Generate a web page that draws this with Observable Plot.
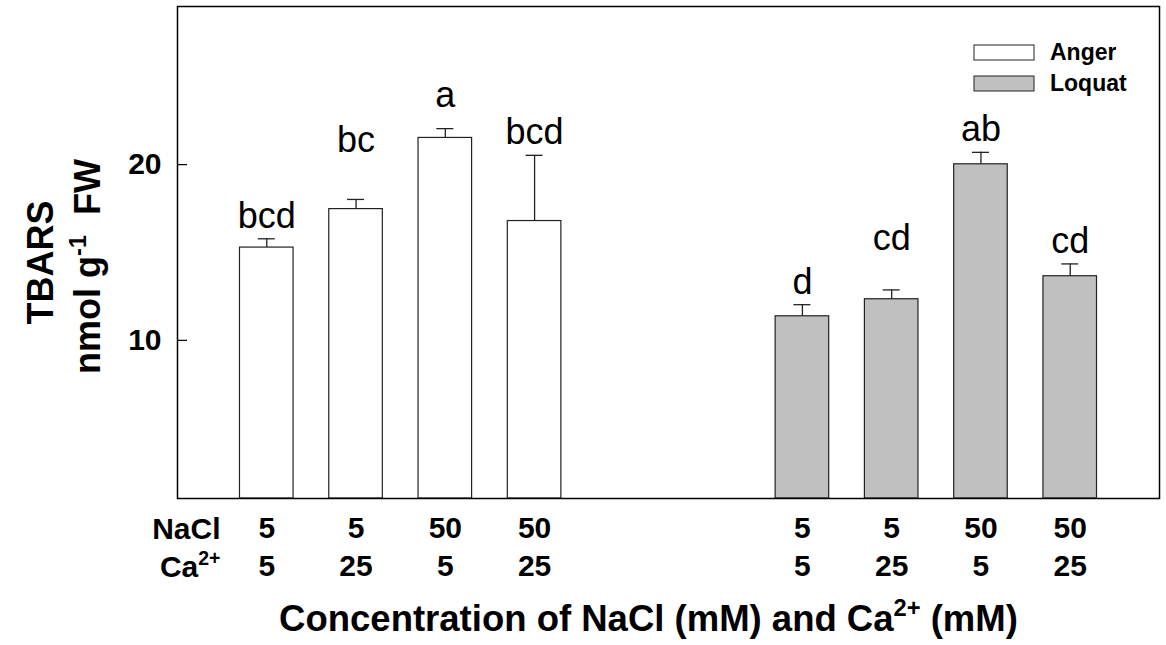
<!DOCTYPE html>
<html><head><meta charset="utf-8">
<script src="https://cdn.jsdelivr.net/npm/d3@7"></script>
<script src="https://cdn.jsdelivr.net/npm/@observablehq/plot@0.6"></script>
<style>
body{margin:0;background:#fff;}
#wrap{position:relative;width:1166px;height:645px;}
#leg{position:absolute;left:974px;top:37px;}
#leg .lg-swatches{font:bold 23px "Liberation Sans",Arial,sans-serif;margin:0;color:#000;}
#leg .lg-swatch{height:30px;padding-bottom:1px;}
#leg .lg-swatch>svg{margin-right:16px;overflow:visible;}
#leg .lg-swatch>svg rect{stroke:#222;stroke-width:1px;}
</style></head><body><div id="wrap"></div>
<script>
const varieties = ["Anger", "Loquat"];
const nacl = [5, 5, 50, 50];
const calcium = [5, 25, 5, 25];
const angerMean = [15.28, 17.47, 21.52, 16.79];
const angerErr = [0.50, 0.55, 0.53, 3.74];
const loquatMean = [11.37, 12.34, 20.02, 13.65];
const loquatErr = [0.66, 0.53, 0.68, 0.70];
const angerLetters = ["bcd", "bc", "a", "bcd"];
const loquatLetters = ["d", "cd", "ab", "cd"];
const angerLetterY = [16.40, 20.70, 23.27, 21.18];
const loquatLetterY = [12.66, 15.15, 21.33, 14.96];
const angerSlot = [0, 1, 2, 3];
const loquatSlot = [6, 7, 8, 9];
const yTicks = [10, 20];
const xDomain = [-1, 10];
const yDomain = [1, 29];
const rowLabels = ["NaCl", "Ca^{2+}"];
const xTitle = "Concentration of NaCl (mM) and Ca^{2+} (mM)";
const yTitle1 = "TBARS";
const yTitle2 = "nmol g^{-1}  FW";

const rows = [];
angerSlot.forEach((s, i) => rows.push({variety: "Anger", slot: s, nacl: nacl[i], ca: calcium[i], mean: angerMean[i], err: angerErr[i], letter: angerLetters[i], ly: angerLetterY[i]}));
loquatSlot.forEach((s, i) => rows.push({variety: "Loquat", slot: s, nacl: nacl[i], ca: calcium[i], mean: loquatMean[i], err: loquatErr[i], letter: loquatLetters[i], ly: loquatLetterY[i]}));
const bySlot = new Map(rows.map(d => [d.slot, d]));

const halfBar = 0.3, halfCap = 0.095;
const font = '"Liberation Sans", Arial, sans-serif';

const chart = Plot.plot({
  width: 1166, height: 645,
  marginTop: 6, marginBottom: 147, marginLeft: 177, marginRight: 7,
  style: {fontFamily: font, background: "#fff", color: "#000"},
  x: {domain: xDomain, axis: null, label: null},
  y: {domain: yDomain, axis: null, label: null},
  color: {domain: varieties, range: ["#ffffff", "#c0c0c0"]},
  marks: [
    Plot.rect(rows, {x1: d => d.slot - halfBar, x2: d => d.slot + halfBar, y1: yDomain[0], y2: "mean", fill: "variety", stroke: "#222", strokeWidth: 1.2}),
    Plot.ruleX(rows, {x: "slot", y1: "mean", y2: d => d.mean + d.err, stroke: "#222", strokeWidth: 1.3}),
    Plot.ruleY(rows, {y: d => d.mean + d.err, x1: d => d.slot - halfCap, x2: d => d.slot + halfCap, stroke: "#222", strokeWidth: 1.3}),
    Plot.text(rows, {x: "slot", y: "ly", text: "letter", lineAnchor: "bottom", fontSize: 36, fill: "#000"}),
    Plot.axisY({ticks: yTicks, tickSize: -10, tickFormat: () => "", strokeWidth: 1.2, label: null}),
    Plot.axisY({ticks: yTicks, tickSize: 0, tickPadding: 16, fontSize: 30, fontWeight: "bold", label: null}),
    Plot.axisX({ticks: rows.map(d => d.slot), tickSize: 0, tickPadding: 13, fontSize: 30, fontWeight: "bold", lineHeight: 1.26,
      tickFormat: s => `${bySlot.get(s).nacl}\n${bySlot.get(s).ca}`, label: null}),
    Plot.text([rowLabels[0]], {frameAnchor: "bottom-left", textAnchor: "end", dx: 43, dy: 40, lineAnchor: "bottom", fontSize: 30, fontWeight: "bold"}),
    Plot.text([rowLabels[1]], {frameAnchor: "bottom-left", textAnchor: "end", dx: 43, dy: 78, lineAnchor: "bottom", fontSize: 30, fontWeight: "bold"}),
    Plot.text([xTitle], {frameAnchor: "bottom", dx: -20, dy: 132, lineAnchor: "bottom", fontSize: 36.5, fontWeight: "bold"}),
    Plot.text([yTitle1], {frameAnchor: "left", textAnchor: "middle", rotate: -90, dx: -136, dy: 10, fontSize: 36, fontWeight: "bold"}),
    Plot.text([yTitle2], {frameAnchor: "left", textAnchor: "middle", rotate: -90, dx: -89, dy: 14, fontSize: 36, fontWeight: "bold"}),
    Plot.frame({stroke: "#000", strokeWidth: 1.5})
  ]
});

function supify(el) {
  const src = el.textContent;
  const parts = src.split(/\^\{([^}]*)\}/);
  el.textContent = "";
  let afterSup = false;
  parts.forEach((p, i) => {
    if (!p) return;
    const t = document.createElementNS("http://www.w3.org/2000/svg", "tspan");
    if (i % 2 === 1) {
      t.setAttribute("font-size", "65%");
      t.setAttribute("dy", "-0.6em");
      afterSup = true;
    } else if (afterSup) {
      t.setAttribute("dy", "0.39em");
      afterSup = false;
    }
    t.setAttribute("xml:space", "preserve");
    t.textContent = p;
    el.appendChild(t);
  });
  el.setAttribute("xml:space", "preserve");
  el.style.whiteSpace = "pre";
}
d3.select(chart).selectAll("text").each(function() {
  if (this.textContent.includes("^{")) supify(this);
});

const wrap = document.getElementById("wrap");
wrap.appendChild(chart);
const legDiv = document.createElement("div");
legDiv.id = "leg";
legDiv.appendChild(chart.legend("color", {legend: "swatches", columns: 1, swatchWidth: 60, swatchHeight: 15, className: "lg"}));
wrap.appendChild(legDiv);
</script></body></html>
